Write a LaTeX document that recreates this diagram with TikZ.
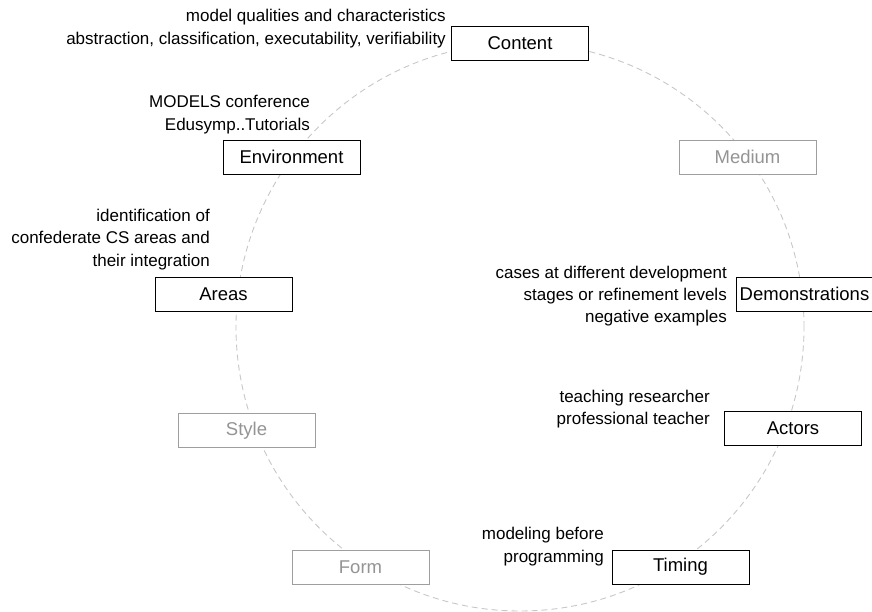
\documentclass[tikz,border=0pt]{standalone}
\usepackage{fontspec}
\setmainfont{Liberation Sans}
\usetikzlibrary{positioning}

\begin{document}
\begin{tikzpicture}[
    x=1pt, y=-1pt,
    facet/.style={
        rectangle, draw=black, line width=1pt, fill=white,
        minimum width=137pt, minimum height=34pt, inner sep=0pt,
        font=\fontsize{18.5}{20}\selectfont
    },
    faded/.style={facet, draw=black!38, text=black!42},
    note/.style={anchor=east, align=right, inner sep=0pt,
        font=\fontsize{17}{22.4}\selectfont},
    ring/.style={draw=black!22, dash pattern=on 6pt off 4pt, line width=0.9pt}
]
\useasboundingbox (0,0) rectangle (872,611);

% dashed ring behind the facets
\draw[ring] (520,327) circle (284pt);

% facets
\node[facet] (f_content) at (520,43.5) {Content};
\node[faded] (f_medium) at (747.5,157) {Medium};
\node[facet] (f_demo) at (804.5,294) {Demonstrations};
\node[facet] (f_actors) at (793,428) {Actors};
\node[facet] (f_timing) at (680.5,567) {Timing};
\node[faded] (f_form) at (360.5,567) {Form};
\node[faded] (f_style) at (246.5,430.5) {Style};
\node[facet] (f_areas) at (223.5,294) {Areas};
\node[facet] (f_env) at (291.5,157) {Environment};

% notes
\node[note] (n_content) at (446,28.5) {model qualities and characteristics\\abstraction, classification, executability, verifiability};
\node[note] (n_env) at (310,114.5) {MODELS conference\\Edusymp..Tutorials};
\node[note] (n_areas) at (210,239.5) {identification of\\confederate CS areas and\\their integration};
\node[note] (n_demo) at (727,296) {cases at different development\\stages or refinement levels\\negative examples};
\node[note] (n_actors) at (710,409) {teaching researcher\\professional teacher};
\node[note] (n_timing) at (604,546.5) {modeling before\\programming};

\end{tikzpicture}
\end{document}
